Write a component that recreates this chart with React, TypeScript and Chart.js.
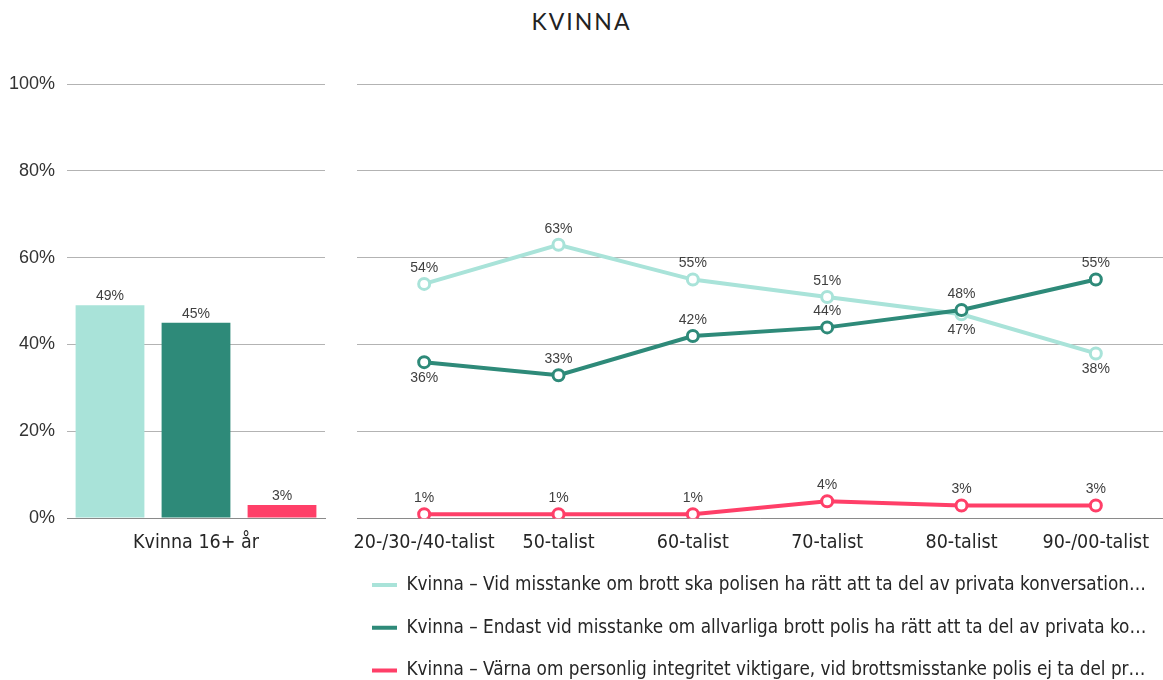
import React, { useEffect, useRef } from "react";
import { Chart, registerables } from "chart.js";
Chart.register(...registerables);

const chartTitle = "KVINNA";
const barCategories = ["Kvinna 16+ år"];
const barValues = [49, 45, 3];
const lineCategories = ["20-/30-/40-talist", "50-talist", "60-talist", "70-talist", "80-talist", "90-/00-talist"];
const seriesNames = [
  "Kvinna – Vid misstanke om brott ska polisen ha rätt att ta del av privata konversation…",
  "Kvinna – Endast vid misstanke om allvarliga brott polis ha rätt att ta del av privata ko…",
  "Kvinna – Värna om personlig integritet viktigare, vid brottsmisstanke polis ej ta del pr…",
];
const seriesColors = ["#a9e3d9", "#2e8a79", "#ff3f68"];
const vidMisstanke = [54, 63, 55, 51, 47, 38];
const endastAllvarliga = [36, 33, 42, 44, 48, 55];
const varnaIntegritet = [1, 1, 1, 4, 3, 3];
const labelPlacement = [
  ["top", "top", "top", "top", "bottom", "bottom"],
  ["bottom", "top", "top", "top", "top", "top"],
  ["top", "top", "top", "top", "top", "top"],
];
const yMin = 0;
const yMax = 100;
const yStep = 20;

const narrow = "'Liberation Sans Narrow', 'DejaVu Sans Condensed', 'Roboto Condensed', sans-serif";
const sans = "'Liberation Sans', Arial, sans-serif";
const gridColor = "#b3b3b3";
const axisColor = "#8a8a8a";
const LEGEND_PAD = 24;
const LEGEND_H = 139;
const X_AXIS_H = 33;

const valueLabelPlugin = {
  id: "valueLabels",
  afterDatasetsDraw(chart: any, _args: any, opts: any) {
    const ctx = chart.ctx;
    ctx.save();
    ctx.font = `${opts.size}px ${opts.family}`;
    ctx.fillStyle = opts.color;
    ctx.textAlign = "center";
    ctx.textBaseline = "middle";
    chart.data.datasets.forEach((ds: any, di: number) => {
      const meta = chart.getDatasetMeta(di);
      meta.data.forEach((el: any, i: number) => {
        const v = ds.data[i];
        const pos = opts.placement ? opts.placement[di][i] : "top";
        const { x, y } = el.getProps(["x", "y"], true);
        const dy = pos === "top" ? -opts.offset : opts.offset;
        ctx.fillText(v + "%", x, y + dy);
      });
    });
    ctx.restore();
  },
};

const fixX = (scale: any) => {
  scale.height = X_AXIS_H;
  scale.paddingLeft = 0;
  scale.paddingRight = 0;
};

export default function App() {
  const barRef = useRef<HTMLCanvasElement>(null);
  const lineRef = useRef<HTMLCanvasElement>(null);

  useEffect(() => {
    const barChart = new Chart(barRef.current!, {
      type: "bar",
      data: {
        labels: barCategories,
        datasets: barValues.map((v, i) => ({
          label: seriesNames[i],
          data: [v],
          backgroundColor: seriesColors[i],
          categoryPercentage: 1,
          barPercentage: 0.8,
        })),
      },
      options: {
        animation: false,
        responsive: false,
        devicePixelRatio: 1,
        layout: { autoPadding: false, padding: { left: 0, right: 10, top: 24, bottom: LEGEND_H } },
        plugins: {
          legend: { display: false },
          tooltip: { enabled: false },
          valueLabels: { size: 14, family: sans, color: "#404040", offset: 9 },
        } as any,
        scales: {
          x: {
            grid: { display: false, drawTicks: false },
            border: { color: axisColor },
            ticks: { font: { family: narrow, size: 19.5 }, color: "#262626", padding: 13 },
            afterFit: fixX,
          },
          y: {
            min: yMin,
            max: yMax,
            border: { display: false },
            grid: { color: gridColor, drawTicks: false },
            ticks: {
              stepSize: yStep,
              padding: 12,
              font: { family: sans, size: 18 },
              color: "#333333",
              callback: (v: any) => v + "%",
            },
            afterFit: (scale: any) => {
              scale.width = 67;
            },
          },
        },
      },
      plugins: [valueLabelPlugin],
    });

    const lineData = [vidMisstanke, endastAllvarliga, varnaIntegritet];
    const lineChart = new Chart(lineRef.current!, {
      type: "line",
      data: {
        labels: lineCategories,
        datasets: lineData.map((d, i) => ({
          label: seriesNames[i],
          data: d,
          borderColor: seriesColors[i],
          backgroundColor: seriesColors[i],
          borderWidth: 4,
          pointRadius: 5.5,
          pointBorderWidth: 3,
          pointBackgroundColor: "#ffffff",
          pointBorderColor: seriesColors[i],
          fill: false,
          tension: 0,
          order: 2 - i,
        })),
      },
      options: {
        animation: false,
        responsive: false,
        devicePixelRatio: 1,
        layout: { autoPadding: false, padding: { left: 0, right: 0, top: 24, bottom: 0 } },
        plugins: {
          tooltip: { enabled: false },
          legend: {
            position: "bottom",
            align: "start",
            labels: {
              boxWidth: 25,
              boxHeight: 4,
              padding: LEGEND_PAD,
              font: { family: narrow, size: 18.8 },
              color: "#262626",
              generateLabels: (chart: any) =>
                chart.data.datasets.map((_ds: any, i: number) => ({
                  text: seriesNames[i],
                  fillStyle: seriesColors[i],
                  strokeStyle: seriesColors[i],
                  lineWidth: 0,
                  hidden: false,
                  datasetIndex: i,
                  fontColor: "#262626",
                })),
            },
          },
          valueLabels: { size: 14, family: sans, color: "#404040", offset: 16, placement: labelPlacement },
        } as any,
        scales: {
          x: {
            offset: true,
            grid: { display: false, drawTicks: false },
            border: { color: axisColor },
            ticks: { font: { family: narrow, size: 19.5 }, color: "#262626", padding: 13, maxRotation: 0, autoSkip: false },
            afterFit: fixX,
          },
          y: {
            min: yMin,
            max: yMax,
            border: { display: false },
            grid: { color: gridColor, drawTicks: false },
            ticks: { stepSize: yStep, display: false },
            afterFit: (scale: any) => {
              scale.width = 9;
            },
          },
        },
      },
      plugins: [valueLabelPlugin],
    });

    return () => {
      barChart.destroy();
      lineChart.destroy();
    };
  }, []);

  return (
    <div style={{ position: "fixed", left: 0, top: 0, width: 1163, height: 680, overflow: "hidden", background: "#fff" }}>
      <div
        style={{
          position: "absolute",
          left: 0,
          top: 7,
          width: 1163,
          textAlign: "center",
          fontFamily: "Lato, 'Noto Sans', sans-serif",
          fontSize: 23,
          letterSpacing: 2,
          color: "#222222",
        }}
      >
        {chartTitle}
      </div>
      <canvas ref={barRef} width={335} height={630} style={{ position: "absolute", left: 0, top: 60, width: 335, height: 630 }} />
      <canvas ref={lineRef} width={815} height={630} style={{ position: "absolute", left: 348, top: 60, width: 815, height: 630 }} />
    </div>
  );
}
